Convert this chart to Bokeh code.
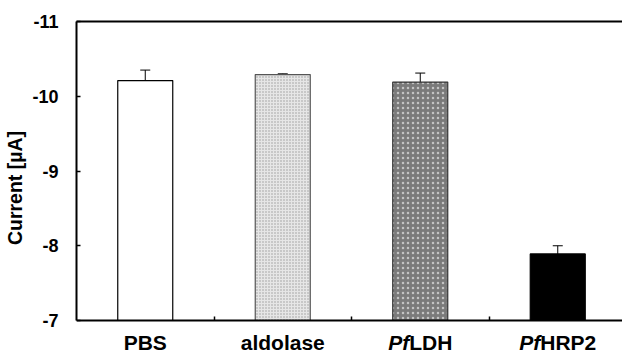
import numpy as np
from bokeh.plotting import figure
from bokeh.models import (Range1d, FixedTicker, LinearAxis, Whisker, TeeHead,
                          ColumnDataSource, PrintfTickFormatter)
from bokeh.core.properties import value
from bokeh.embed import file_html
from bokeh.resources import INLINE

# ---- data ----
categories = ["PBS", "aldolase", "PfLDH", "PfHRP2"]
label_italic = ["", "", "Pf", "Pf"]
label_plain = ["PBS", "aldolase", "LDH", "HRP2"]
currents = [-10.21, -10.29, -10.19, -7.89]
errors = [0.14, 0.01, 0.12, 0.11]
y_ticks = [-7, -8, -9, -10, -11]
y_title = "Current [µA]"

fill_colors = ["white", "#e6e6e6", "#7a7a7a", "black"]
line_colors = ["black", "#555555", "#333333", "black"]
hatch_colors = ["white", "#9a9a9a", "#c4c4c4", "black"]
hatch_patterns = [" ", "dot", "dot", " "]
hatch_scales = [3, 3, 5, 3]

FONT = "Liberation Sans"

# ---- geometry (pixels) ----
W, H = 622, 354
left_px, top_px, axis_px = 76, 21, 320
spacing_px = 137.5
px_per_unit = (axis_px - top_px) / (y_ticks[0] - y_ticks[-1])  # 74.75 px per µA
y_bottom_val = y_ticks[0] + (H - axis_px) / px_per_unit

x = np.arange(len(categories)) + 0.5
bottom = [y_ticks[0]] * len(categories)
upper = [c - e for c, e in zip(currents, errors)]
lower = [c + e for c, e in zip(currents, errors)]

src = ColumnDataSource(dict(x=x, top=currents, bottom=bottom, upper=upper, lower=lower,
                            fill=fill_colors, line=line_colors, hc=hatch_colors,
                            hp=hatch_patterns, hs=hatch_scales))

p = figure(width=W, height=H, output_backend="svg", toolbar_location=None,
           x_range=Range1d(0, (W - left_px) / spacing_px),
           y_range=Range1d(y_bottom_val, y_ticks[-1]),
           min_border_left=left_px, min_border_right=0, min_border_top=top_px,
           min_border_bottom=0,
           background_fill_color="white", border_fill_color="white")
p.outline_line_color = None
p.grid.visible = False

p.vbar(x="x", top="top", bottom="bottom", width=0.40, source=src,
       fill_color="fill", line_color="line", line_width=1.2,
       hatch_color="hc", hatch_pattern="hp", hatch_scale="hs", hatch_weight=1)

w = Whisker(source=src, base="x", upper="upper", lower="lower",
            line_color="black", line_width=1,
            upper_head=TeeHead(size=10, line_color="black", line_width=1),
            lower_head=TeeHead(size=10, line_color="black", line_width=1))
p.add_layout(w)

# y axis
ya = p.yaxis[0]
ya.ticker = FixedTicker(ticks=y_ticks)
ya.bounds = (y_ticks[-1], y_ticks[0])
ya.formatter = PrintfTickFormatter(format="%d")
ya.major_tick_in = 4
ya.major_tick_out = 0
ya.minor_tick_in = 0
ya.minor_tick_out = 0
ya.axis_line_width = 2
ya.axis_line_color = "black"
ya.major_tick_line_width = 1.5
ya.major_label_standoff = 18
ya.major_label_text_font = FONT
ya.major_label_text_font_style = "bold"
ya.major_label_text_font_size = "18px"
ya.major_label_text_color = "black"
ya.axis_label = y_title
ya.axis_label_text_font = FONT
ya.axis_label_text_font_style = "bold"
ya.axis_label_text_font_size = "19.5px"
ya.axis_label_text_color = "black"
ya.axis_label_standoff = 3

# x axis: line at y=-7, tick marks between categories (no tick labels)
xa = p.xaxis[0]
xa.fixed_location = y_ticks[0]
sep_ticks = [float(t) for t in np.arange(1, len(categories))]
xa.ticker = FixedTicker(ticks=sep_ticks)
xa.major_label_overrides = {t: "" for t in sep_ticks}
xa.major_tick_in = 4
xa.major_tick_out = 0
xa.minor_tick_in = 0
xa.minor_tick_out = 0
xa.major_tick_line_width = 1.5
xa.axis_line_width = 2
xa.axis_line_color = "black"
xa.major_label_standoff = 0

# top border line
top_axis = LinearAxis(ticker=FixedTicker(ticks=[]), axis_line_width=2, axis_line_color="black",
                      major_tick_in=0, major_tick_out=0,
                      minor_tick_in=0, minor_tick_out=0, major_label_standoff=0)
p.add_layout(top_axis, "above")

# category labels (with italic "Pf" parts), drawn as text below the axis
LBL = 21
em = {"Pf": 1.0, "LDH": 2.055, "HRP2": 2.667}
lx, lt, lo, la, ls = [], [], [], [], []
for xi, it, pl in zip(x, label_italic, label_plain):
    if it:
        w_it = em[it] * LBL
        w_pl = em[pl] * LBL
        split = -(w_it + w_pl) / 2 + w_it
        lx += [xi, xi]; lt += [it, pl]; lo += [split, split]
        la += ["right", "left"]; ls += ["bold italic", "bold"]
    else:
        lx.append(xi); lt.append(pl); lo.append(0); la.append("center"); ls.append("bold")
lab_src = ColumnDataSource(dict(x=lx, y=[y_ticks[0]] * len(lx), text=lt, xo=lo,
                                align=la, style=ls))
p.text(x="x", y="y", text="text", x_offset="xo", y_offset=22, source=lab_src,
       text_font=value(FONT), text_font_style="style", text_font_size=f"{LBL}px",
       text_align="align", text_baseline="alphabetic", text_color="black")

open("out.html", "w").write(file_html(p, INLINE))
